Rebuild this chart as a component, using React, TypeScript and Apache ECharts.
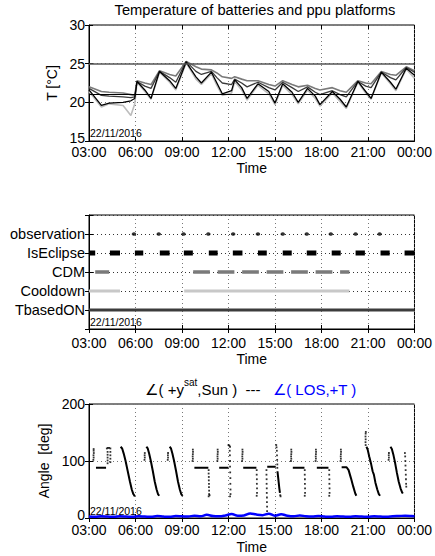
import React, { useEffect, useRef } from "react";
import * as echarts from "echarts";

const FONT = '"Liberation Sans", Arial, Helvetica, sans-serif';

// ---------- shared x axis (hours after 03:00 on 22/11/2016) ----------
const xTickLabels = ["03:00", "06:00", "09:00", "12:00", "15:00", "18:00", "21:00", "00:00"];
const dateLabel = "22/11/2016";

// ---------- panel 1: temperatures ----------
const tempTimes = [0, 0.8, 1.3, 2.2, 2.7, 2.95, 3.1, 3.6, 4.0, 4.55, 5.2, 5.6, 6.27, 6.9, 7.25, 7.9, 8.25, 8.6, 9.2, 9.4, 9.85, 10.2, 10.9, 11.6, 12.0, 12.5, 13.1, 13.5, 14.1, 14.6, 14.9, 15.7, 16.2, 16.6, 17.35, 17.85, 18.2, 18.86, 19.45, 19.8, 20.47, 21.0];
const tempA = [22.0, 21.4, 21.3, 21.2, 21.0, 20.9, 22.8, 22.5, 22.3, 24.1, 23.6, 23.4, 25.3, 24.6, 24.3, 24.2, 23.8, 23.3, 23.1, 23.3, 23.0, 22.8, 22.8, 22.3, 22.1, 22.8, 22.3, 22.0, 22.2, 21.8, 21.6, 21.9, 21.5, 21.3, 22.8, 22.5, 22.4, 24.0, 23.6, 23.5, 24.6, 24.1];
const tempB = [21.8, 20.9, 20.8, 20.7, 20.6, 20.7, 22.7, 22.1, 21.8, 24.0, 23.2, 22.6, 25.3, 24.0, 23.6, 24.0, 23.2, 22.5, 22.3, 23.0, 22.5, 22.0, 22.6, 21.9, 21.6, 22.6, 21.9, 21.4, 22.0, 21.3, 21.0, 21.5, 21.0, 20.7, 22.7, 22.1, 21.9, 23.9, 23.2, 22.9, 24.5, 23.9];
const tempC = [21.6, 19.6, 19.9, 20.0, 20.2, 20.5, 22.7, 21.6, 20.5, 24.0, 22.8, 21.8, 25.2, 23.3, 22.5, 23.9, 22.5, 21.1, 21.5, 22.9, 21.9, 20.5, 22.4, 21.4, 19.9, 22.4, 21.3, 20.0, 21.8, 20.8, 19.7, 21.4, 20.4, 19.4, 22.7, 21.4, 20.5, 23.9, 22.6, 21.7, 24.4, 23.5];
const tempD = [21.4, 19.4, 19.8, 19.6, 18.3, 19.8, 22.6, 21.4, 20.4, 23.9, 22.6, 21.6, 25.1, 23.0, 22.3, 23.7, 22.2, 20.9, 21.2, 22.7, 21.6, 20.3, 22.2, 21.1, 19.7, 22.2, 21.0, 19.8, 21.6, 20.5, 19.5, 21.2, 20.1, 19.2, 22.6, 21.2, 20.4, 23.8, 22.4, 21.5, 24.3, 23.1];
const tempRefLines = [25, 21];

// ---------- panel 2: flags ----------
const flagNames = ["", "TbasedON", "Cooldown", "CDM", "IsEclipse", "observation", ""];
const observationTimes = [2.9, 4.5, 6.1, 7.7, 9.3, 10.9, 12.5, 14.05, 15.6, 17.2, 18.75];
const eclipseIntervals = [[0, 0.4], [1.35, 2.0], [2.96, 3.5], [4.57, 5.2], [6.12, 6.7], [7.73, 8.3], [9.28, 9.9], [10.9, 11.47], [12.5, 13.08], [14.05, 14.67], [15.66, 16.24], [17.2, 17.8], [18.81, 19.4], [20.36, 21]];
const cdmIntervals = [[0.4, 1.3], [6.72, 7.8], [8.3, 9.38], [9.88, 10.96], [11.46, 12.54], [13.04, 14.12], [14.62, 15.7], [16.2, 16.8]];
const cooldownIntervals = [[0, 2.0], [6.14, 16.8]];
const tbasedIntervals = [[0, 21]];

// ---------- panel 3: angles ----------
const sunSegments = [
  [[0.45, 88], [1.1, 88]],
  [[2.04, 125], [2.14, 122], [2.24, 113], [2.36, 100], [2.5, 82], [2.64, 64], [2.76, 50], [2.86, 42], [2.96, 38]],
  [[3.7, 125], [3.79, 122], [3.88, 113], [3.99, 100], [4.12, 82], [4.24, 64], [4.36, 50], [4.45, 42], [4.53, 39]],
  [[5.2, 125], [5.29, 122], [5.38, 113], [5.49, 100], [5.62, 82], [5.74, 64], [5.86, 50], [5.95, 42], [6.04, 39]],
  [[6.8, 88], [7.7, 88]],
  [[8.4, 88], [9.0, 88]],
  [[9.95, 88], [10.8, 88]],
  [[11.5, 90], [12.05, 90]],
  [[12.16, 82], [12.2, 72], [12.24, 62], [12.28, 52], [12.32, 44]],
  [[13.15, 88], [13.9, 88]],
  [[14.7, 88], [15.45, 88]],
  [[16.3, 89], [16.62, 89], [16.75, 84], [16.9, 70], [17.05, 55], [17.18, 43], [17.25, 39]],
  [[17.9, 125], [17.98, 120], [18.08, 108], [18.2, 95], [18.3, 82], [18.38, 76], [18.48, 62], [18.6, 50], [18.7, 42], [18.78, 39]],
  [[19.45, 125], [19.54, 121], [19.63, 112], [19.74, 98], [19.86, 80], [19.98, 64], [20.1, 52], [20.2, 45], [20.25, 43]],
];
const sunDots = [
  [0.28, 102], [0.3, 106], [0.29, 110], [0.31, 114], [0.3, 118], [0.3, 121],
  [1.15, 122], [1.22, 123], [1.3, 123], [1.38, 122], [1.2, 96], [1.2, 101], [1.2, 106], [1.2, 111], [1.2, 116], [1.38, 98], [1.38, 104], [1.38, 110], [1.38, 116],
  [3.58, 102], [3.6, 106], [3.59, 110], [3.6, 114],
  [5.08, 102], [5.1, 106], [5.09, 110], [5.1, 114],
  [6.68, 100], [6.7, 104], [6.69, 108], [6.7, 112], [6.71, 116], [6.7, 120],
  [7.72, 84], [7.72, 78], [7.73, 72], [7.73, 66], [7.74, 60], [7.74, 54], [7.75, 48], [7.75, 42], [7.72, 38], [7.78, 40],
  [8.28, 100], [8.3, 104], [8.29, 108], [8.3, 112], [8.31, 116], [8.3, 120],
  [9.0, 128], [9.05, 127], [9.1, 125], [9.08, 118], [9.09, 110], [9.1, 100], [9.1, 90], [9.11, 80], [9.12, 70], [9.12, 60], [9.13, 50], [9.13, 42], [9.1, 38],
  [9.88, 100], [9.9, 104], [9.89, 108], [9.9, 112], [9.91, 116], [9.9, 120],
  [10.82, 84], [10.82, 76], [10.83, 68], [10.83, 60], [10.84, 52], [10.84, 44], [10.82, 39],
  [11.45, 84], [11.45, 76], [11.46, 68], [11.46, 60], [11.47, 52], [11.47, 44], [11.48, 36], [11.48, 28], [11.49, 20], [11.49, 12],
  [12.08, 128], [12.1, 124], [12.12, 118], [12.13, 110], [12.14, 102], [12.15, 94], [12.15, 88], [12.34, 40], [12.36, 38],
  [13.03, 100], [13.05, 104], [13.04, 108], [13.05, 112], [13.06, 116], [13.05, 120],
  [13.92, 84], [13.92, 76], [13.93, 68], [13.93, 60], [13.94, 52], [13.94, 44], [13.92, 39],
  [14.62, 100], [14.64, 104], [14.63, 108], [14.64, 112], [14.65, 116], [14.64, 120],
  [15.5, 84], [15.5, 76], [15.51, 68], [15.51, 60], [15.52, 52], [15.52, 44], [15.5, 39],
  [16.23, 100], [16.25, 104], [16.24, 108], [16.25, 112], [16.26, 116], [16.25, 120],
  [17.85, 128], [17.84, 133], [17.85, 138], [17.84, 143], [17.85, 148], [17.86, 151],
  [19.33, 102], [19.35, 106], [19.34, 110], [19.35, 114],
  [20.38, 114], [20.4, 108], [20.41, 100], [20.42, 92], [20.43, 84], [20.44, 76], [20.45, 68], [20.46, 60], [20.47, 55],
];
const losTimes = [0, 0.4, 0.8, 1.2, 1.6, 2.0, 2.4, 2.8, 3.2, 3.6, 4.0, 4.4, 4.8, 5.2, 5.6, 6.0, 6.4, 6.8, 7.2, 7.6, 8.0, 8.4, 8.8, 9.2, 9.6, 10.0, 10.4, 10.8, 11.2, 11.6, 12.0, 12.4, 12.8, 13.2, 13.6, 14.0, 14.4, 14.8, 15.2, 15.6, 16.0, 16.4, 16.8, 17.2, 17.6, 18.0, 18.4, 18.8, 19.2, 19.6, 20.0, 20.4, 20.8, 21.0];
const losValues = [2.5, 2, 3, 2.5, 2, 3, 2.5, 2, 3, 2.5, 2, 3.5, 2.5, 2, 3.5, 3, 2.5, 4, 3, 5.5, 3.5, 3, 4.5, 7, 4, 4.5, 8, 6, 5, 7.5, 4, 6.5, 4, 3, 4.5, 3, 2.5, 3.5, 2.5, 2, 3, 2.5, 2, 3, 2.5, 2, 3, 2.5, 2, 3, 3.5, 4, 3.5, 3];

function intervalsToLine(intervals: number[][], level: number) {
  const out: any[] = [];
  intervals.forEach(([s, e]) => {
    out.push([s, level], [e, level], [e, "-"]);
  });
  return out;
}
function segmentsToLine(segs: number[][][]) {
  const out: any[] = [];
  segs.forEach((seg) => {
    seg.forEach((p) => out.push(p));
    out.push([seg[seg.length - 1][0], "-"]);
  });
  return out;
}

const GRIDS = [
  { left: 89, top: 25, width: 326, height: 116 },
  { left: 89, top: 215, width: 326, height: 114 },
  { left: 89, top: 404, width: 326, height: 114 },
];
const X_LABEL_MARGIN = [5, 8, 6];
const X_NAME_GAP = [20, 23, 22];

export default function App() {
  const ref = useRef<HTMLDivElement>(null);
  useEffect(() => {
    if (!ref.current) return;
    const chart = echarts.init(ref.current, undefined, { renderer: "svg" });
    const txt = { color: "#000", fontFamily: FONT };
    const tick = { show: true, inside: true, length: 4, lineStyle: { color: "#000" } };
    const dotted = { show: true, lineStyle: { color: "#777", type: [1, 3] as any, width: 1 } };
    const lowRich = { lo: { fontSize: 14, fontFamily: FONT, color: "#000", padding: [0, 0, 7, 0] } };
    const yLabel = (min: number) => ({
      ...txt, fontSize: 14, lineHeight: 11, margin: 4, showMinLabel: true, showMaxLabel: true,
      formatter: (v: number) => (v === min ? `{lo|${v}}` : `${v}`),
      rich: lowRich,
    });

    const xPrimary = GRIDS.map((_, i) => ({
      type: "value",
      gridIndex: i,
      min: 0,
      max: 21,
      interval: 3,
      axisLine: { show: true, lineStyle: { color: "#000" } },
      axisTick: tick,
      axisLabel: {
        ...txt,
        fontSize: 14,
        lineHeight: 12,
        margin: X_LABEL_MARGIN[i],
        showMinLabel: true,
        showMaxLabel: true,
        formatter: (v: number) => xTickLabels[Math.round(v / 3)] ?? "",
      },
      splitLine: dotted,
      name: "Time",
      nameLocation: "middle",
      nameGap: X_NAME_GAP[i],
      nameTextStyle: { ...txt, fontSize: 14 },
    }));
    const xTop = GRIDS.map((_, i) => ({
      type: "value",
      gridIndex: i,
      position: "top",
      min: 0,
      max: 21,
      interval: 3,
      axisLine: { show: false },
      axisTick: tick,
      axisLabel: { show: false },
      splitLine: { show: false },
    }));
    const yPrimary: any[] = [
      {
        type: "value", gridIndex: 0, min: 15, max: 30, interval: 5,
        axisLine: { show: true, lineStyle: { color: "#000" } }, axisTick: tick,
        axisLabel: yLabel(15),
        splitLine: dotted,
        name: "T [°C]", nameLocation: "middle", nameGap: 22, nameTextStyle: { ...txt, fontSize: 14 },
      },
      {
        type: "value", gridIndex: 1, min: 0, max: 6, interval: 1,
        axisLine: { show: true, lineStyle: { color: "#000" } }, axisTick: tick,
        axisLabel: { ...txt, fontSize: 14.5, margin: 4, formatter: (v: number) => flagNames[Math.round(v)] ?? "" },
        splitLine: { show: true, lineStyle: { color: "#333", type: [1, 3] as any, width: 1 } },
      },
      {
        type: "value", gridIndex: 2, min: 0, max: 200, interval: 100,
        axisLine: { show: true, lineStyle: { color: "#000" } }, axisTick: tick,
        axisLabel: yLabel(0),
        splitLine: dotted,
        name: "Angle  [deg]", nameLocation: "middle", nameGap: 31, nameTextStyle: { ...txt, fontSize: 14 },
      },
    ];
    const yRight = [
      { min: 15, max: 30, interval: 5 },
      { min: 0, max: 6, interval: 1 },
      { min: 0, max: 200, interval: 100 },
    ].map((r, i) => ({
      type: "value", gridIndex: i, position: "right", ...r,
      axisLine: { show: false }, axisTick: tick, axisLabel: { show: false }, splitLine: { show: false },
    }));

    const zip = (vals: number[]) => tempTimes.map((t, i) => [t, vals[i]]);
    const tempLine = (vals: number[], color: string, width: number, extra: any = {}) => ({
      type: "line", xAxisIndex: 0, yAxisIndex: 0, data: zip(vals), showSymbol: false, symbol: "none",
      lineStyle: { color, width }, z: 3, ...extra,
    });
    const flagLine = (intervals: number[][], level: number, color: string, width: number) => ({
      type: "line", xAxisIndex: 1, yAxisIndex: 1, data: intervalsToLine(intervals, level),
      showSymbol: false, symbol: "none", connectNulls: false, lineStyle: { color, width, cap: "butt" }, z: 3,
    });

    const series: any[] = [
      tempLine(tempA, "#7a7a7a", 1.6, {
        markLine: {
          silent: true, symbol: "none", label: { show: false },
          data: [
            { yAxis: tempRefLines[0], lineStyle: { color: "#555", width: 1.5, type: "solid" } },
            { yAxis: tempRefLines[1], lineStyle: { color: "#000", width: 1, type: "solid" } },
          ],
        },
      }),
      tempLine(tempD, "#bdbdbd", 1.6),
      tempLine(tempB, "#3a3a3a", 1.3),
      tempLine(tempC, "#000", 1.3),

      flagLine(tbasedIntervals, 1, "#3c3c3c", 3),
      flagLine(cooldownIntervals, 2, "#c8c8c8", 3),
      flagLine(cdmIntervals, 3, "#7a7a7a", 3.5),
      flagLine(eclipseIntervals, 4, "#000", 5),
      {
        type: "scatter", xAxisIndex: 1, yAxisIndex: 1, symbol: "circle", symbolSize: [4.5, 3.5],
        data: observationTimes.map((t) => [t, 5]), itemStyle: { color: "#000" }, z: 4,
      },

      {
        type: "line", xAxisIndex: 2, yAxisIndex: 2, data: segmentsToLine(sunSegments), showSymbol: false, symbol: "none",
        connectNulls: false, lineStyle: { color: "#000", width: 2 }, z: 3,
      },
      {
        type: "scatter", xAxisIndex: 2, yAxisIndex: 2, symbol: "rect", symbolSize: 1.8, data: sunDots,
        itemStyle: { color: "#000" }, z: 3,
      },
      {
        type: "line", xAxisIndex: 2, yAxisIndex: 2, data: losTimes.map((t, i) => [t, losValues[i]]), showSymbol: false,
        symbol: "none", smooth: 0.4, lineStyle: { color: "#0000ff", width: 2.5 }, z: 4,
      },
    ];

    const dateTexts = [138.5, 327, 516].map((y) => ({
      type: "text", x: 90, y, z: 100,
      style: { text: dateLabel, font: `10.5px ${FONT}`, fill: "#000", align: "left", verticalAlign: "bottom" },
    }));

    chart.setOption({
      animation: false,
      backgroundColor: "#fff",
      grid: GRIDS.map((g) => ({ ...g, show: true, borderColor: "#000", borderWidth: 1, backgroundColor: "transparent" })),
      xAxis: [...xPrimary, ...xTop],
      yAxis: [...yPrimary, ...yRight],
      series,
      graphic: [
        {
          type: "text", x: 255, y: 10, z: 100,
          style: { text: "Temperature of batteries and ppu platforms", font: `14.7px ${FONT}`, fill: "#000", align: "center", verticalAlign: "middle" },
        },
        {
          type: "text", x: 251, y: 387, z: 100,
          style: {
            text: "{a|∠( +y}{s|sat}{a|,Sun )  ---   }{b|∠( LOS,+T )}",
            align: "center", verticalAlign: "middle",
            rich: {
              a: { fontSize: 15, fontFamily: FONT, fill: "#000", color: "#000", lineHeight: 20, verticalAlign: "bottom" },
              s: { fontSize: 10, fontFamily: FONT, fill: "#000", color: "#000", lineHeight: 20, verticalAlign: "top" },
              b: { fontSize: 15, fontFamily: FONT, fill: "#0000ff", color: "#0000ff", lineHeight: 20, verticalAlign: "bottom" },
            },
          },
        },
        ...dateTexts,
      ],
    });
    return () => chart.dispose();
  }, []);
  return <div ref={ref} style={{ position: "fixed", left: 0, top: 0, width: 435, height: 556, background: "#fff" }} />;
}
